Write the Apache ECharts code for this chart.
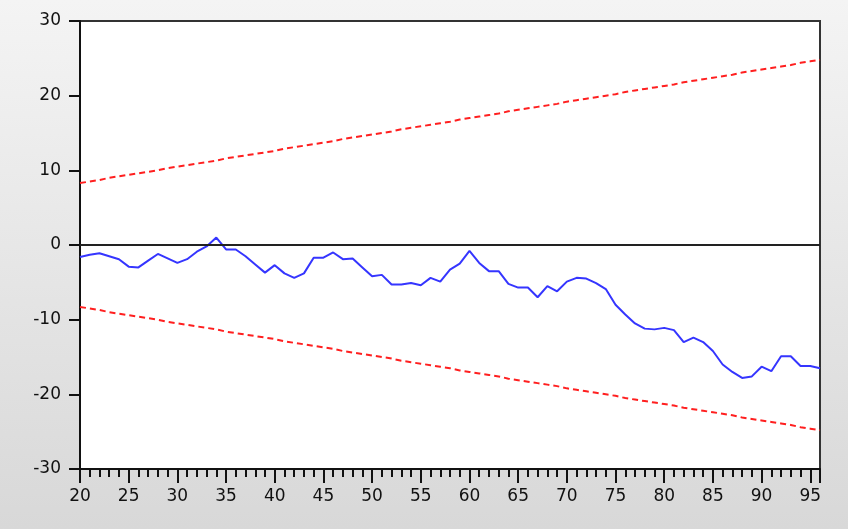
<!DOCTYPE html>
<html>
<head>
<meta charset="utf-8">
<script src="https://cdn.jsdelivr.net/npm/echarts@6/dist/echarts.min.js"></script>
<style>
  html, body { margin: 0; padding: 0; }
  body { background: linear-gradient(#f4f4f4, #d8d8d8); }
  #chart { width: 848px; height: 529px; }
</style>
</head>
<body>
<div id="chart"></div>
<script>
// observation index, 20..96
const periods = [];
for (let t = 20; t <= 96; t++) periods.push(t);

// CUSUM
const cusum = [
  -1.6, -1.3, -1.1, -1.5, -1.9, -2.9, -3.0, -2.1, -1.2, -1.8,
  -2.4, -1.9, -0.9, -0.2, 1.0, -0.6, -0.6, -1.5, -2.6, -3.7,
  -2.7, -3.8, -4.4, -3.8, -1.7, -1.7, -1.0, -1.9, -1.8, -3.0,
  -4.2, -4.0, -5.3, -5.3, -5.1, -5.4, -4.4, -4.9, -3.3, -2.5,
  -0.8, -2.4, -3.5, -3.5, -5.2, -5.7, -5.7, -7.0, -5.5, -6.2,
  -4.9, -4.4, -4.5, -5.1, -5.9, -8.0, -9.3, -10.5, -11.2, -11.3,
  -11.1, -11.4, -13.0, -12.4, -13.0, -14.2, -16.0, -17.0, -17.8, -17.6,
  -16.3, -16.9, -14.9, -14.9, -16.2, -16.2, -16.5
];

// 5% significance band (upper), lower is the mirror
const upperBand = [
  8.3, 8.5, 8.7, 9.0, 9.2, 9.4, 9.6, 9.8, 10.0, 10.3,
  10.5, 10.7, 10.9, 11.1, 11.3, 11.6, 11.8, 12.0, 12.2, 12.4,
  12.6, 12.9, 13.1, 13.3, 13.5, 13.7, 13.9, 14.2, 14.4, 14.6,
  14.8, 15.0, 15.2, 15.5, 15.7, 15.9, 16.1, 16.3, 16.5, 16.8,
  17.0, 17.2, 17.4, 17.6, 17.9, 18.1, 18.3, 18.5, 18.7, 18.9,
  19.2, 19.4, 19.6, 19.8, 20.0, 20.2, 20.5, 20.7, 20.9, 21.1,
  21.3, 21.5, 21.8, 22.0, 22.2, 22.4, 22.6, 22.8, 23.1, 23.3,
  23.5, 23.7, 23.9, 24.1, 24.4, 24.6, 24.8
];
const lowerBand = upperBand.map((v) => -v);

const pairs = (ys) => periods.map((t, i) => [t, ys[i]]);

const chart = echarts.init(document.getElementById('chart'));

const labelStyle = {
  color: '#111',
  fontFamily: 'DejaVu Sans',
  fontSize: 17,
};

chart.setOption({
  animation: false,
  grid: {
    left: 80,
    right: 28,
    top: 21,
    bottom: 60,
    show: true,
    backgroundColor: '#ffffff',
    borderColor: '#333333',
    borderWidth: 2,
  },
  xAxis: {
    type: 'value',
    min: 20,
    max: 96,
    interval: 5,
    axisLine: { onZero: false, lineStyle: { color: '#111', width: 2 } },
    axisTick: { length: 14, lineStyle: { color: '#111', width: 2 } },
    minorTick: { show: true, splitNumber: 5, length: 8, lineStyle: { color: '#111', width: 2 } },
    splitLine: { show: false },
    axisLabel: { ...labelStyle, margin: 19 },
  },
  yAxis: {
    type: 'value',
    min: -30,
    max: 30,
    interval: 10,
    axisLine: { onZero: false, lineStyle: { color: '#111', width: 2 } },
    axisTick: { length: 11, lineStyle: { color: '#111', width: 2 } },
    splitLine: { show: false },
    axisLabel: { ...labelStyle, margin: 19 },
  },
  series: [
    {
      name: 'CUSUM',
      type: 'line',
      data: pairs(cusum),
      showSymbol: false,
      lineStyle: { color: '#3535ff', width: 2 },
      markLine: {
        silent: true,
        symbol: 'none',
        label: { show: false },
        lineStyle: { color: '#222', width: 2, type: 'solid' },
        data: [{ yAxis: 0 }],
      },
      z: 3,
    },
    {
      name: '5% Significance',
      type: 'line',
      data: pairs(upperBand),
      showSymbol: false,
      lineStyle: { color: '#ff1f1f', width: 2, type: [6, 4] },
    },
    {
      name: 'lower',
      type: 'line',
      data: pairs(lowerBand),
      showSymbol: false,
      lineStyle: { color: '#ff1f1f', width: 2, type: [6, 4] },
    },
  ],
});
</script>
</body>
</html>
